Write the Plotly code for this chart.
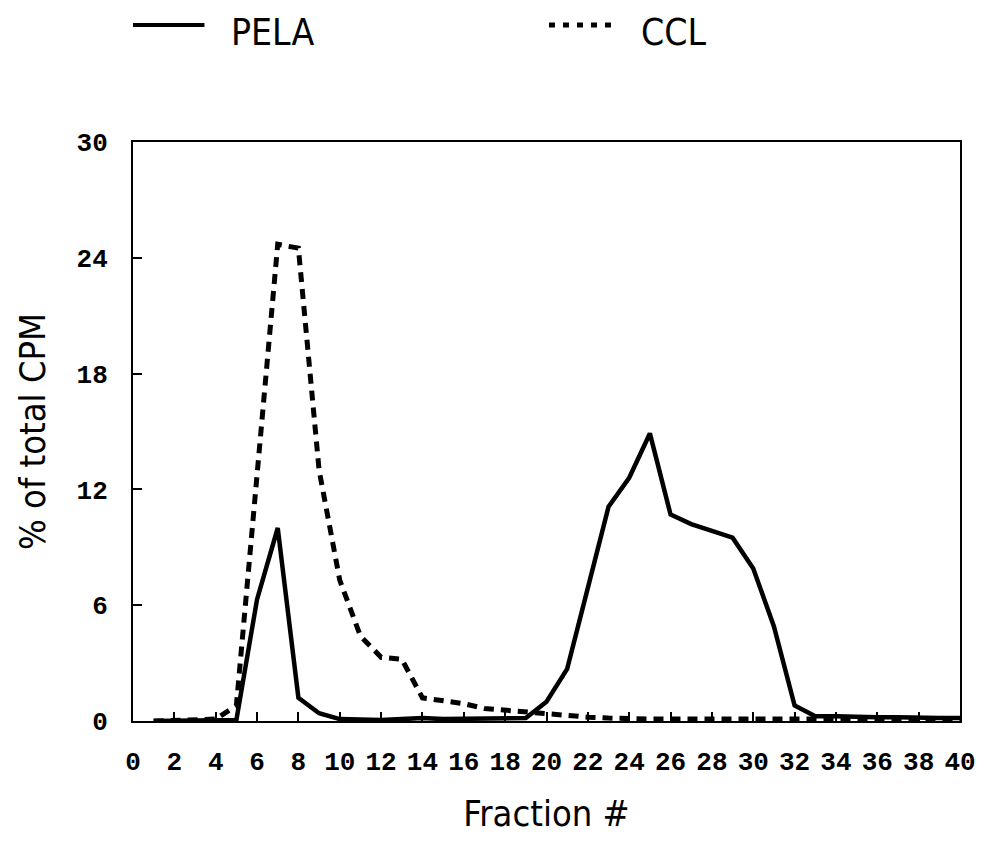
import plotly.graph_objects as go

fractions = list(range(1, 41))
pela = [0, 0, 0, 0, 0.05, 6.3, 10.0, 1.2, 0.4, 0.1,
        0.05, 0.05, 0.1, 0.15, 0.1, 0.1, 0.1, 0.1, 0.15, 1.0,
        2.7, 6.9, 11.1, 12.6, 14.9, 10.7, 10.2, 9.85, 9.5, 7.9,
        4.9, 0.8, 0.25, 0.25, 0.2, 0.2, 0.2, 0.15, 0.15, 0.15]
ccl = [0.0, 0.05, 0.05, 0.1, 0.8, 13.0, 24.7, 24.5, 13.0, 7.3,
       4.4, 3.3, 3.2, 1.2, 1.05, 0.9, 0.65, 0.55, 0.45, 0.35,
       0.3, 0.2, 0.15, 0.1, 0.1, 0.1, 0.1, 0.1, 0.1, 0.1,
       0.1, 0.1, 0.15, 0.15, 0.15, 0.15, 0.1, 0.1, 0.1, 0.1]
x_ticks = list(range(0, 41, 2))
y_ticks = [0, 6, 12, 18, 24, 30]

NARROW = "Liberation Sans Narrow, Arial Narrow, DejaVu Sans Condensed, sans-serif"
MONO = "Liberation Mono, Courier New, DejaVu Sans Mono, monospace"

fig = go.Figure()
fig.add_trace(go.Scatter(x=fractions, y=pela, mode="lines", name="PELA",
                         line=dict(color="black", width=4.5), showlegend=False))
fig.add_trace(go.Scatter(x=fractions, y=ccl, mode="lines", name="CCL",
                         line=dict(color="black", width=5, dash="10px,7px"), showlegend=False))

# legend keys drawn in paper coordinates
LEG_Y = 1.2021
fig.add_shape(type="line", xref="paper", yref="paper", x0=0.0, x1=0.0864, y0=LEG_Y, y1=LEG_Y,
              line=dict(color="black", width=4))
fig.add_shape(type="line", xref="paper", yref="paper", x0=0.503, x1=0.581, y0=LEG_Y, y1=LEG_Y,
              line=dict(color="black", width=5, dash="6px,8px"))
fig.add_annotation(text="PELA", xref="paper", yref="paper", x=0.1164, y=1.1883,
                   xanchor="left", yanchor="middle", showarrow=False,
                   font=dict(family=NARROW, size=37, color="black"))
fig.add_annotation(text="CCL", xref="paper", yref="paper", x=0.6122, y=1.1883,
                   xanchor="left", yanchor="middle", showarrow=False,
                   font=dict(family=NARROW, size=37, color="black"))

fig.update_layout(
    width=988, height=845,
    margin=dict(l=133, r=22, t=142, b=124),
    paper_bgcolor="white", plot_bgcolor="white",
)
fig.update_xaxes(
    range=[0, 40], tickmode="array", tickvals=x_ticks, ticktext=[str(v) for v in x_ticks],
    ticks="inside", ticklen=9, tickwidth=1.5, tickcolor="black",
    showline=True, linecolor="black", linewidth=2, mirror=True,
    showgrid=False, zeroline=False,
    tickfont=dict(family=MONO, size=26, color="black", weight="bold"),
    ticklabelstandoff=16,
    title=dict(text="Fraction #", font=dict(family=NARROW, size=36, color="black"), standoff=24),
)
fig.update_yaxes(
    range=[0, 30], tickmode="array", tickvals=y_ticks, ticktext=[str(v) for v in y_ticks],
    ticks="inside", ticklen=9, tickwidth=1.5, tickcolor="black",
    showline=True, linecolor="black", linewidth=2, mirror=True,
    showgrid=False, zeroline=False,
    tickfont=dict(family=MONO, size=26, color="black", weight="bold"),
    ticklabelstandoff=18,
    title=dict(text="% of total CPM", font=dict(family=NARROW, size=36, color="black"), standoff=20),
)

fig.write_html("out.html")
